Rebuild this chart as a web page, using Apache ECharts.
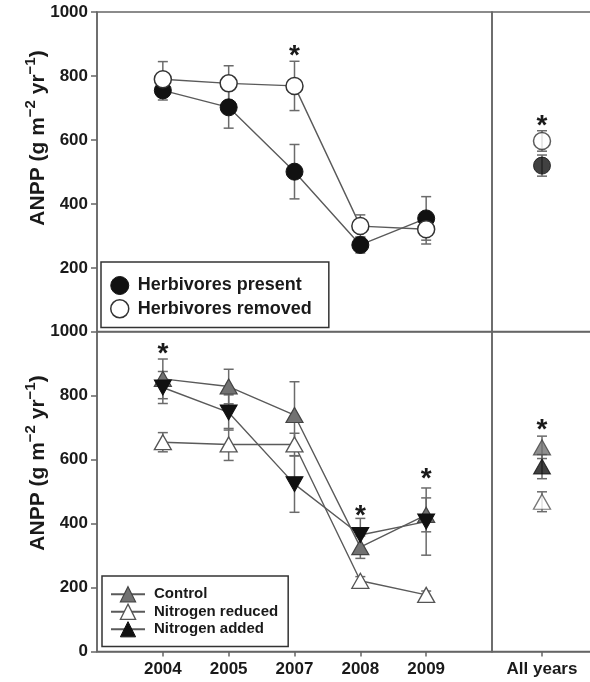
<!DOCTYPE html>
<html><head><meta charset="utf-8">
<script src="https://cdn.jsdelivr.net/npm/echarts@6/dist/echarts.min.js"></script>
<style>html,body{margin:0;padding:0;background:#fff}#c{width:590px;height:682px}</style>
</head><body><div id="c"></div>
<script>
// ---------- data ----------
const years = ['2004', '2005', '2007', '2008', '2009'];
const allLabel = ['All years'];

// top panel: herbivory
const herbPresent = [755, 702, 501, 272, 355];
const herbPresentErr = [30, 65, 85, 25, 68];
const herbRemoved = [790, 777, 769, 331, 321];
const herbRemovedErr = [55, 55, 77, 35, 46];
const herbPresentAll = [520];
const herbPresentAllErr = [33];
const herbRemovedAll = [597];
const herbRemovedAllErr = [32];
const topStarYears = ['2007'];
const topStarValues = [880];
const topStarAll = [663];

// bottom panel: nitrogen
const control = [852, 828, 739, 326, 427];
const controlErr = [62, 54, 104, 35, 53];
const nReduced = [654, 647, 647, 221, 177];
const nReducedErr = [30, 50, 35, 13, 12];
const nAdded = [825, 747, 523, 364, 406];
const nAddedErr = [50, 55, 88, 52, 105];
const controlAll = [638];
const controlAllErr = [35];
const nReducedAll = [468];
const nReducedAllErr = [31];
const nAddedAll = [578];
const nAddedAllErr = [38];
const bottomStarYears = ['2004', '2008', '2009'];
const bottomStarValues = [949, 442, 558];
const bottomStarAll = [711];

// ---------- helpers ----------
const FONT = 'Liberation Sans, Arial, Helvetica, sans-serif';
const TXT = '#1a1a1a';
const AX = '#666';
const xPos = years.map((_, i) => i + 1);
const pts = vals => vals.map((v, i) => [xPos[i], v]);

function errSeries(xs, vals, errs, xi, yi) {
  return {
    type: 'custom', xAxisIndex: xi, yAxisIndex: yi, z: 1, silent: true,
    data: vals.map((v, i) => [xs[i], v, errs[i]]),
    renderItem(params, api) {
      const x = api.value(0), v = api.value(1), e = api.value(2);
      const t = api.coord([x, v + e]), b = api.coord([x, v - e]);
      const w = 5, st = { stroke: '#6b6b6b', lineWidth: 1.5 };
      return { type: 'group', children: [
        { type: 'line', shape: { x1: t[0], y1: t[1], x2: b[0], y2: b[1] }, style: st },
        { type: 'line', shape: { x1: t[0] - w, y1: t[1], x2: t[0] + w, y2: t[1] }, style: st },
        { type: 'line', shape: { x1: b[0] - w, y1: b[1], x2: b[0] + w, y2: b[1] }, style: st }
      ] };
    }
  };
}
function starSeries(xs, vals, xi, yi) {
  return {
    type: 'custom', xAxisIndex: xi, yAxisIndex: yi, z: 5, silent: true,
    data: vals.map((v, i) => [xs[i], v]),
    renderItem(params, api) {
      const p = api.coord([api.value(0), api.value(1)]);
      return { type: 'text', x: p[0], y: p[1] + 6,
        style: { text: '*', font: 'bold 28px ' + FONT, fill: TXT, align: 'center', verticalAlign: 'middle' } };
    }
  };
}
function lineSeries(name, vals, xi, yi, sym) {
  return Object.assign({
    name, type: 'line', xAxisIndex: xi, yAxisIndex: yi, z: 3,
    data: pts(vals), showAllSymbol: true,
    lineStyle: { color: '#5a5a5a', width: 1.4 },
    emphasis: { disabled: true }
  }, sym);
}
function allSeries(name, vals, xi, yi, sym) {
  return Object.assign({
    name, type: 'scatter', xAxisIndex: xi, yAxisIndex: yi, z: 3,
    data: vals.map(v => [allLabel[0], v]),
    emphasis: { disabled: true }
  }, sym);
}

const symPresent = { symbol: 'circle', symbolSize: 17, itemStyle: { color: '#111', borderColor: '#111', borderWidth: 1 } };
const symRemoved = { symbol: 'circle', symbolSize: 17, itemStyle: { color: '#fff', borderColor: '#333', borderWidth: 1.5 } };
const symControl = { symbol: 'triangle', symbolSize: [17, 15], itemStyle: { color: '#727272', borderColor: '#444', borderWidth: 1.2 } };
const symReduced = { symbol: 'triangle', symbolSize: [17, 15], itemStyle: { color: '#fff', borderColor: '#555', borderWidth: 1.3 } };
const symAdded = { symbol: 'triangle', symbolSize: [17, 15], itemStyle: { color: '#111', borderColor: '#111', borderWidth: 1 } };

const labelStyle = { fontFamily: FONT, fontWeight: 'bold', fontSize: 17, color: TXT };
const gridBase = { show: true, borderColor: AX, borderWidth: 1.5, backgroundColor: 'transparent', outerBoundsMode: 'none', containLabel: false };
const yName = {
  text: '{a|ANPP (g m}{s|−2}{a| yr}{s|−1}{a|)}', align: 'center', verticalAlign: 'middle',
  rich: { a: { font: 'bold 21px ' + FONT, fill: TXT, lineHeight: 26, verticalAlign: 'bottom' },
          s: { font: 'bold 15px ' + FONT, fill: TXT, lineHeight: 15, verticalAlign: 'top' } }
};

const chart = echarts.init(document.getElementById('c'), null, { renderer: 'canvas' });
chart.setOption({
  animation: false,
  backgroundColor: '#fff',
  grid: [
    Object.assign({ left: 97, top: 12, width: 395, height: 320 }, gridBase),
    Object.assign({ left: 492, top: 12, width: 100, height: 320 }, gridBase),
    Object.assign({ left: 97, top: 331.5, width: 395, height: 320 }, gridBase),
    Object.assign({ left: 492, top: 331.5, width: 100, height: 320 }, gridBase)
  ],
  xAxis: [
    { gridIndex: 0, type: 'value', min: 0, max: 6, show: false },
    { gridIndex: 1, type: 'category', data: allLabel, show: false },
    { gridIndex: 2, type: 'value', min: 0, max: 6, interval: 1,
      axisLine: { show: true, lineStyle: { color: AX, width: 1.5 } },
      axisTick: { show: true, length: 5, customValues: xPos, lineStyle: { color: AX, width: 1.5 } },
      axisLabel: Object.assign({ margin: 9, customValues: xPos, formatter: v => years[v - 1] || '' }, labelStyle),
      splitLine: { show: false } },
    { gridIndex: 3, type: 'category', data: allLabel,
      axisLine: { show: true, lineStyle: { color: AX, width: 1.5 } },
      axisTick: { show: true, length: 5, alignWithLabel: true, lineStyle: { color: AX, width: 1.5 } },
      axisLabel: Object.assign({ margin: 9, interval: 0 }, labelStyle),
      splitLine: { show: false } }
  ],
  yAxis: [
    { gridIndex: 0, type: 'value', min: 0, max: 1000, interval: 200,
      axisLine: { show: true, lineStyle: { color: AX, width: 1.5 } },
      axisTick: { show: true, length: 6, lineStyle: { color: AX, width: 1.5 } },
      axisLabel: Object.assign({ margin: 9, formatter: v => v === 0 ? '' : String(v) }, labelStyle),
      splitLine: { show: false } },
    { gridIndex: 1, type: 'value', min: 0, max: 1000, show: false },
    { gridIndex: 2, type: 'value', min: 0, max: 1000, interval: 200,
      axisLine: { show: true, lineStyle: { color: AX, width: 1.5 } },
      axisTick: { show: true, length: 6, lineStyle: { color: AX, width: 1.5 } },
      axisLabel: Object.assign({ margin: 9, formatter: v => String(v) }, labelStyle),
      splitLine: { show: false } },
    { gridIndex: 3, type: 'value', min: 0, max: 1000, show: false }
  ],
  legend: [
    { orient: 'vertical', left: 101, top: 262, selectedMode: false,
      itemWidth: 18, itemHeight: 18, itemGap: 4, padding: [14, 17, 9, 9],
      borderColor: '#333', borderWidth: 1.5, borderRadius: 0, backgroundColor: '#fff',
      textStyle: { fontFamily: FONT, fontWeight: 'bold', fontSize: 18, color: TXT, padding: [0, 0, 0, 4] },
      data: [
        { name: 'Herbivores present', icon: 'circle', itemStyle: { color: '#111', borderColor: '#111', borderWidth: 1 } },
        { name: 'Herbivores removed', icon: 'circle', itemStyle: { color: '#fff', borderColor: '#333', borderWidth: 1.5 } }
      ] },
    { orient: 'vertical', left: 102, top: 576, selectedMode: false, symbolRotate: 0,
      itemWidth: 34, itemHeight: 19, itemGap: 0, padding: [9.5, 10, 8.5, 8],
      borderColor: '#333', borderWidth: 1.5, borderRadius: 0, backgroundColor: '#fff',
      textStyle: { fontFamily: FONT, fontWeight: 'bold', fontSize: 15, lineHeight: 17.5, color: TXT, padding: [0, 0, 0, 4] },
      data: [
        { name: 'Control', itemStyle: { color: '#727272', borderColor: '#444', borderWidth: 1.2 } },
        { name: 'Nitrogen reduced', itemStyle: { color: '#fff', borderColor: '#555', borderWidth: 1.3 } },
        { name: 'Nitrogen added', symbolRotate: 0, itemStyle: { color: '#111', borderColor: '#111', borderWidth: 1 } }
      ] }
  ],
  graphic: [
    { type: 'text', x: 36, y: 138, rotation: Math.PI / 2, silent: true, style: yName },
    { type: 'text', x: 36, y: 463, rotation: Math.PI / 2, silent: true, style: yName }
  ],
  series: [
    // top panel
    errSeries(xPos, herbPresent, herbPresentErr, 0, 0),
    errSeries(xPos, herbRemoved, herbRemovedErr, 0, 0),
    lineSeries('Herbivores present', herbPresent, 0, 0, symPresent),
    lineSeries('Herbivores removed', herbRemoved, 0, 0, symRemoved),
    starSeries(topStarYears.map(y => years.indexOf(y) + 1), topStarValues, 0, 0),
    errSeries(allLabel, herbPresentAll, herbPresentAllErr, 1, 1),
    errSeries(allLabel, herbRemovedAll, herbRemovedAllErr, 1, 1),
    allSeries('present-all', herbPresentAll, 1, 1, symPresent),
    allSeries('removed-all', herbRemovedAll, 1, 1, symRemoved),
    starSeries(allLabel, topStarAll, 1, 1),
    // bottom panel
    errSeries(xPos, control, controlErr, 2, 2),
    errSeries(xPos, nReduced, nReducedErr, 2, 2),
    errSeries(xPos, nAdded, nAddedErr, 2, 2),
    lineSeries('Nitrogen reduced', nReduced, 2, 2, symReduced),
    lineSeries('Control', control, 2, 2, symControl),
    lineSeries('Nitrogen added', nAdded, 2, 2, Object.assign({ symbolRotate: 180 }, symAdded)),
    starSeries(bottomStarYears.map(y => years.indexOf(y) + 1), bottomStarValues, 2, 2),
    errSeries(allLabel, controlAll, controlAllErr, 3, 3),
    errSeries(allLabel, nReducedAll, nReducedAllErr, 3, 3),
    errSeries(allLabel, nAddedAll, nAddedAllErr, 3, 3),
    allSeries('control-all', controlAll, 3, 3, symControl),
    allSeries('reduced-all', nReducedAll, 3, 3, symReduced),
    allSeries('added-all', nAddedAll, 3, 3, symAdded),
    starSeries(allLabel, bottomStarAll, 3, 3)
  ]
});
</script></body></html>
